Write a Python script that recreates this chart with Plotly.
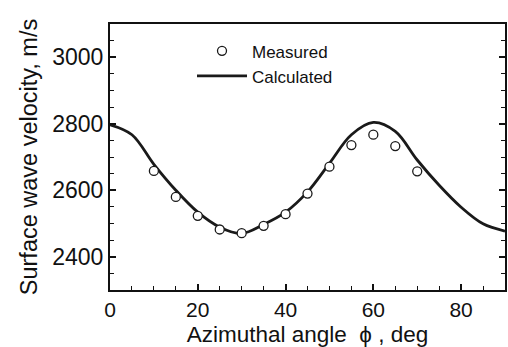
import plotly.graph_objects as go

# Calculated curve
calc_angle = [0, 5, 10, 15, 20, 25, 30, 35, 40, 45, 50, 55, 60, 65, 70, 75, 80, 85, 90]
calc_vel = [2797, 2767, 2678, 2600, 2534, 2489, 2470, 2497, 2534, 2595, 2681, 2767, 2804, 2777, 2691, 2615, 2549, 2499, 2477]

# Measured points
meas_angle = [10, 15, 20, 25, 30, 35, 40, 45, 50, 55, 60, 65, 70]
meas_vel = [2658, 2580, 2523, 2482, 2471, 2493, 2528, 2590, 2671, 2736, 2767, 2733, 2657]

x_ticks = [0, 20, 40, 60, 80]
y_ticks = [2400, 2600, 2800, 3000]

FONT = "Liberation Sans, Arial, Helvetica, sans-serif"

fig = go.Figure()
fig.add_trace(go.Scatter(
    x=calc_angle, y=calc_vel, mode="lines", name="Calculated",
    line=dict(color="#1a1a1a", width=2.8, shape="spline", smoothing=1.0),
    legendrank=2,
))
fig.add_trace(go.Scatter(
    x=meas_angle, y=meas_vel, mode="markers", name="Measured",
    marker=dict(symbol="circle", size=9, color="white",
                line=dict(color="#1a1a1a", width=1.3)),
    legendrank=1,
))

fig.update_layout(
    width=508, height=347,
    margin=dict(l=110, r=3, t=24, b=57),
    paper_bgcolor="white", plot_bgcolor="white",
    font=dict(family=FONT, color="#111", size=23),
    showlegend=True,
    legend=dict(x=0.2076, y=0.965, xanchor="left", yanchor="top",
                bgcolor="rgba(0,0,0,0)", font=dict(size=17, family=FONT),
                tracegroupgap=0, itemwidth=50),
    xaxis=dict(
        range=[0, 90], tickvals=x_ticks, ticktext=[str(v) for v in x_ticks],
        ticks="inside", ticklen=6, tickwidth=1.5, tickcolor="#111",
        minor=dict(dtick=5, tick0=0, ticks="inside", ticklen=4, tickcolor="#111", tickwidth=1.2),
        showline=True, linecolor="#111", linewidth=2.2, mirror=True,
        showgrid=False, zeroline=False, automargin=False,
        title=dict(text="Azimuthal angle  ϕ , deg", standoff=10, font=dict(size=22.5)),
        tickfont=dict(size=21),
    ),
    yaxis=dict(
        range=[2300, 3100], tickvals=y_ticks, ticktext=[str(v) for v in y_ticks],
        ticks="inside", ticklen=6, tickwidth=1.5, tickcolor="#111",
        minor=dict(dtick=50, tick0=2300, ticks="inside", ticklen=4, tickcolor="#111", tickwidth=1.2),
        showline=True, linecolor="#111", linewidth=2.2, mirror="ticks",
        showgrid=False, zeroline=False, automargin=False,
        title=dict(text="Surface wave velocity, m/s", standoff=8, font=dict(size=23.5)),
        tickfont=dict(size=23),
    ),
)

fig.write_html("out.html")
